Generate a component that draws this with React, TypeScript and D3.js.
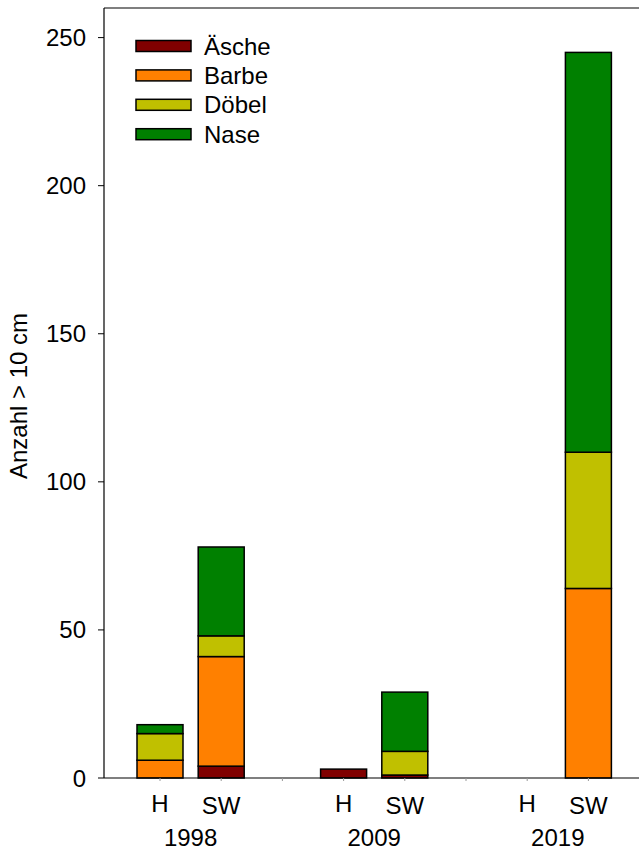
import React from "react";
import * as d3 from "d3";

const years = ["1998", "2009", "2019"];
const sites = ["H", "SW"];
const species = ["Äsche", "Barbe", "Döbel", "Nase"];
const colors = ["#800000", "#FF8000", "#C0C000", "#008000"];
// order: 1998 H, 1998 SW, 2009 H, 2009 SW, 2019 H, 2019 SW
const aesche = [0, 4, 3, 1, 0, 0];
const barbe = [6, 37, 0, 0, 0, 64];
const doebel = [9, 7, 0, 8, 0, 46];
const nase = [3, 30, 0, 20, 0, 135];
const yTicks = [0, 50, 100, 150, 200, 250];

const W = 639;
const H = 852;
const font = "'Liberation Sans', Arial, sans-serif";

export default function App() {
  const rows = years.flatMap((yr, gi) =>
    sites.map((s, si) => {
      const i = gi * 2 + si;
      return {
        year: yr,
        site: s,
        slot: gi * 3 + si,
        "Äsche": aesche[i],
        Barbe: barbe[i],
        "Döbel": doebel[i],
        Nase: nase[i],
      };
    })
  );
  const stack = d3.stack<any>().keys(species);
  const series = stack(rows);

  const y = d3.scaleLinear().domain([0, 250]).range([778, 37.6]);
  const x = d3.scaleLinear().domain([0, 7]).range([160, 588.4]);
  const barW = 46;
  const left = 104;
  const top = 8;
  const bottom = 778;

  return (
    <svg
      width={W}
      height={H}
      style={{ position: "absolute", left: 0, top: 0, background: "#fff" }}
      fontFamily={font}
    >
      <rect x={0} y={0} width={W} height={H} fill="#fff" />
      {/* bars */}
      {series.map((s, k) => (
        <g key={s.key}>
          {s.map((d, j) => {
            const h = y(d[0]) - y(d[1]);
            if (h <= 0) return null;
            const cx = x(rows[j].slot);
            return (
              <rect
                key={j}
                x={cx - barW / 2}
                y={y(d[1])}
                width={barW}
                height={h}
                fill={colors[k]}
                stroke="#000"
                strokeWidth={1.5}
              />
            );
          })}
        </g>
      ))}
      {/* frame */}
      <line x1={left} x2={W} y1={top} y2={top} stroke="#555" strokeWidth={1.5} />
      <line x1={left} x2={left} y1={top} y2={bottom} stroke="#000" strokeWidth={1.2} />
      <line x1={left} x2={W} y1={bottom} y2={bottom} stroke="#000" strokeWidth={1.2} />
      {/* x minor ticks */}
      {d3.range(0, 8).map((i) => (
        <line key={i} x1={x(i)} x2={x(i)} y1={bottom} y2={bottom + 3} stroke="#999" strokeWidth={1} />
      ))}
      {/* y ticks */}
      {yTicks.map((t) => (
        <g key={t}>
          <line x1={left - 6} x2={left} y1={y(t)} y2={y(t)} stroke="#000" strokeWidth={1} />
          <text x={86} y={y(t) + 8.5} textAnchor="end" fontSize={24} fill="#000">
            {t}
          </text>
        </g>
      ))}
      {/* y label */}
      <text
        transform="translate(27,396) rotate(-90)"
        textAnchor="middle"
        fontSize={24}
        fill="#000"
      >
        Anzahl &gt; 10 cm
      </text>
      {/* x labels */}
      {rows.map((r, j) => (
        <text key={j} x={x(r.slot)} y={r.site === "H" ? 812 : 814} textAnchor="middle" fontSize={24} fill="#000">
          {r.site}
        </text>
      ))}
      {years.map((yr, gi) => (
        <text key={yr} x={(x(gi * 3) + x(gi * 3 + 1)) / 2} y={846} textAnchor="middle" fontSize={24} fill="#000">
          {yr}
        </text>
      ))}
      {/* legend */}
      {species.map((sp, k) => {
        const cy = 46 + k * 29.4;
        return (
          <g key={sp}>
            <rect x={136} y={cy - 5.5} width={55} height={11} fill={colors[k]} stroke="#000" strokeWidth={1.5} />
            <text x={204} y={cy + 8.5} fontSize={24} fill="#000">
              {sp}
            </text>
          </g>
        );
      })}
    </svg>
  );
}
